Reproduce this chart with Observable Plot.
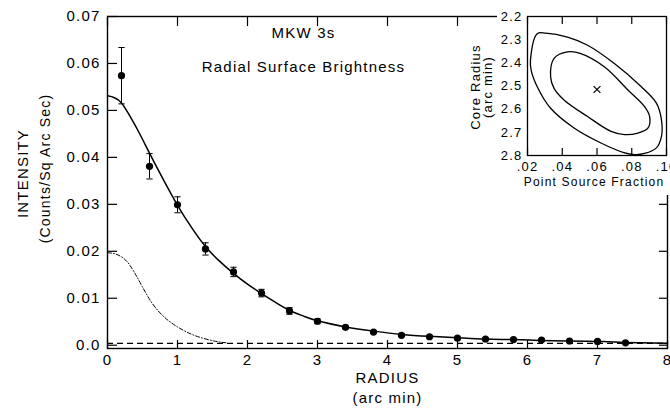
<!DOCTYPE html>
<html><head><meta charset="utf-8">
<script src="https://cdn.jsdelivr.net/npm/d3@7"></script>
<script src="https://cdn.jsdelivr.net/npm/@observablehq/plot@0.6"></script>
<style>
html,body{margin:0;padding:0;background:#fff;}
#wrap{position:relative;width:670px;height:411px;overflow:hidden;}
#main{position:absolute;left:0;top:0;}
#inset{position:absolute;left:497px;top:0;}
svg text{letter-spacing:1.2px;}
g[aria-label="title"] text{letter-spacing:1.8px;}
g[aria-label="axis-title"] text{letter-spacing:1px;}
</style></head><body><div id="wrap"><div id="main"></div><div id="inset"></div></div>
<script>
// ---- Main chart data ----
const radius    = [0.2, 0.6, 1.0, 1.4, 1.8, 2.2, 2.6, 3.0, 3.4, 3.8, 4.2, 4.6, 5.0, 5.4, 5.8, 6.2, 6.6, 7.0, 7.4];
const intensity = [0.0574, 0.0381, 0.0299, 0.0205, 0.0156, 0.0111, 0.0073, 0.0051, 0.0038, 0.0028, 0.0021, 0.0018, 0.0015, 0.0013, 0.0012, 0.0011, 0.0009, 0.0008, 0.0005];
const errorBar  = [0.0060, 0.0027, 0.0017, 0.0013, 0.0010, 0.0008, 0.0007, 0.0005, 0.0003, 0.0003, 0.0003, 0.0002, 0.0002, 0.0002, 0.0002, 0.0002, 0.0002, 0.0002, 0.0002];

// fitted total model (solid)
const fitRadius    = [0, 0.1, 0.2, 0.3, 0.45, 0.6, 0.8, 1.0, 1.2, 1.4, 1.6, 1.8, 2.0, 2.2, 2.4, 2.6, 2.8, 3.0, 3.4, 3.8, 4.2, 4.6, 5.0, 5.4, 5.8, 6.2, 6.6, 7.0, 7.4, 8.0];
const fitIntensity = [0.0531, 0.0527, 0.0516, 0.0493, 0.0453, 0.0409, 0.0352, 0.0298, 0.0251, 0.0210, 0.0179, 0.0153, 0.0130, 0.0110, 0.0091, 0.0074, 0.0062, 0.0052, 0.0039, 0.0030, 0.0023, 0.0019, 0.0016, 0.0013, 0.0012, 0.0010, 0.0009, 0.0008, 0.0006, 0.0004];

// point source component (dash-dot)
const psfRadius    = [0, 0.12, 0.26, 0.38, 0.5, 0.64, 0.81, 1.0, 1.24, 1.52, 1.71];
const psfIntensity = [0.0197, 0.0194, 0.0181, 0.0156, 0.0124, 0.0089, 0.0060, 0.0039, 0.0021, 0.0009, 0.0005];

// background level (dashed)
const background = [0.0004];

const xTicks = [0, 1, 2, 3, 4, 5, 6, 7, 8];
const xTickLabels = ["0", "1", "2", "3", "4", "5", "6", "7", "8"];
const yTicks = [0, 0.01, 0.02, 0.03, 0.04, 0.05, 0.06, 0.07];
const yTickLabels = ["0.0", "0.01", "0.02", "0.03", "0.04", "0.05", "0.06", "0.07"];

const titleLabels = ["MKW 3s", "Radial Surface Brightness"];
const titleX = [2.8, 2.8];
const titleY = [0.0664, 0.0591];

// ---- Inset data (confidence contours) ----
const outerFraction = [0.0217, 0.0221, 0.0256, 0.0333, 0.0468, 0.0623, 0.0749, 0.0816, 0.0874, 0.0942, 0.0971, 0.0971, 0.0942, 0.0855, 0.0700, 0.0546, 0.0430, 0.0304, 0.0256];
const outerCore     = [2.389, 2.431, 2.503, 2.596, 2.681, 2.746, 2.786, 2.796, 2.791, 2.767, 2.717, 2.646, 2.574, 2.503, 2.403, 2.324, 2.289, 2.272, 2.274];
const innerFraction = [0.0333, 0.0353, 0.0410, 0.0546, 0.0681, 0.0758, 0.0836, 0.0894, 0.0903, 0.0874, 0.0778, 0.0642, 0.0507, 0.0430, 0.0353];
const innerCore     = [2.460, 2.510, 2.560, 2.632, 2.696, 2.710, 2.703, 2.681, 2.632, 2.589, 2.517, 2.417, 2.360, 2.353, 2.381];
const bestFraction = [0.060];
const bestCore = [2.515];
const insetXTicks = [0.02, 0.04, 0.06, 0.08, 0.10];
const insetXTickLabels = [".02", ".04", ".06", ".08", ".10"];
const insetYTicks = [2.2, 2.3, 2.4, 2.5, 2.6, 2.7, 2.8];
const insetYTickLabels = ["2.2", "2.3", "2.4", "2.5", "2.6", "2.7", "2.8"];

// ---- build tables ----
const points = radius.map((r, i) => ({r, v: intensity[i], e: errorBar[i]}));
const caps = points.flatMap(d => [{r: d.r, v: d.v + d.e}, {r: d.r, v: d.v - d.e}]);
const fit = fitRadius.map((r, i) => ({r, v: fitIntensity[i]}));
const psf = psfRadius.map((r, i) => ({r, v: psfIntensity[i]}));
const titles = titleLabels.map((t, i) => ({t, x: titleX[i], y: titleY[i]}));
const outer = outerFraction.map((f, i) => ({f, c: outerCore[i]}));
const inner = innerFraction.map((f, i) => ({f, c: innerCore[i]}));
const best = bestFraction.map((f, i) => ({f, c: bestCore[i]}));

const FONT = "'Liberation Sans', Arial, sans-serif";
const capHalf = 0.045;

const main = Plot.plot({
  width: 670, height: 411,
  marginLeft: 107, marginRight: 3, marginTop: 16, marginBottom: 63,
  x: {domain: [0, 8]},
  y: {domain: [-0.0007, 0.07]},
  style: {fontFamily: FONT, fontSize: "15px", background: "white", color: "black"},
  marks: [
    Plot.ruleY(background, {stroke: "black", strokeWidth: 1.1, strokeDasharray: "6,4"}),
    Plot.line(psf, {x: "r", y: "v", curve: "natural", stroke: "black", strokeWidth: 1, strokeDasharray: "4,2,1,2"}),
    Plot.line(fit, {x: "r", y: "v", curve: "natural", stroke: "black", strokeWidth: 1.5}),
    Plot.ruleX(points, {x: "r", y1: d => d.v - d.e, y2: d => d.v + d.e, stroke: "black", strokeWidth: 1}),
    Plot.link(caps, {x1: d => d.r - capHalf, x2: d => d.r + capHalf, y1: "v", y2: "v", stroke: "black", strokeWidth: 1}),
    Plot.dot(points, {x: "r", y: "v", r: 3.6, fill: "black", stroke: "none"}),
    Plot.frame({stroke: "black", strokeWidth: 1.4}),
    Plot.axisX(xTicks, {anchor: "bottom", tickSize: -8, tickPadding: 14, tickFormat: d => xTickLabels[xTicks.indexOf(d)], fontSize: 15, label: null, strokeWidth: 1.2}),
    Plot.axisX(xTicks, {anchor: "top", tickSize: -9, tickFormat: () => "", label: null, strokeWidth: 1.2}),
    Plot.axisY(yTicks, {anchor: "left", tickSize: -10, tickPadding: 17, tickFormat: d => yTickLabels[yTicks.indexOf(d)], fontSize: 15, label: null, strokeWidth: 1.2}),
    Plot.axisY(yTicks, {anchor: "right", tickSize: -9, tickFormat: () => "", label: null, strokeWidth: 1.2}),
    Plot.text(titles, {x: "x", y: "y", text: "t", fontSize: 15, fill: "black", ariaLabel: "title"}),
    Plot.text(["RADIUS"], {text: d => d, frameAnchor: "bottom", textAnchor: "middle", dy: 34, fontSize: 15, fill: "black", ariaLabel: "axis-title"}),
    Plot.text(["(arc min)"], {text: d => d, frameAnchor: "bottom", textAnchor: "middle", dy: 54, fontSize: 15, fill: "black", ariaLabel: "axis-title"}),
    Plot.text(["INTENSITY"], {text: d => d, frameAnchor: "left", textAnchor: "middle", rotate: -90, dx: -84, dy: -9, fontSize: 15, fill: "black", ariaLabel: "axis-title"}),
    Plot.text(["(Counts/Sq Arc Sec)"], {text: d => d, frameAnchor: "left", textAnchor: "middle", rotate: -90, dx: -62, dy: -14, fontSize: 14, fill: "black", ariaLabel: "axis-title"})
  ]
});
document.getElementById("main").append(main);

const inset = Plot.plot({
  width: 173, height: 195,
  marginLeft: 30, marginRight: 4, marginTop: 16, marginBottom: 40,
  x: {domain: [0.02, 0.10]},
  y: {domain: [2.2, 2.8], reverse: true},
  style: {fontFamily: FONT, fontSize: "13px", background: "white", color: "black", overflow: "visible"},
  marks: [
    Plot.frame({stroke: "black", strokeWidth: 1.3}),
    Plot.axisX(insetXTicks, {anchor: "bottom", tickSize: -7, tickPadding: 13, tickFormat: d => insetXTickLabels[insetXTicks.indexOf(d)], fontSize: 13, label: null, strokeWidth: 1.2}),
    Plot.axisX(insetXTicks, {anchor: "top", tickSize: -7, tickFormat: () => "", label: null, strokeWidth: 1.2}),
    Plot.axisY(insetYTicks, {anchor: "left", tickSize: 0, tickPadding: 5, tickFormat: d => insetYTickLabels[insetYTicks.indexOf(d)], fontSize: 13, label: null}),
    Plot.line(outer, {x: "f", y: "c", curve: "catmull-rom-closed", stroke: "black", strokeWidth: 1.3}),
    Plot.line(inner, {x: "f", y: "c", curve: "catmull-rom-closed", stroke: "black", strokeWidth: 1.3}),
    Plot.dot(best, {x: "f", y: "c", symbol: "times", r: 3.2, stroke: "black", strokeWidth: 1.2}),
    Plot.text(["Point Source Fraction"], {text: d => d, frameAnchor: "bottom", textAnchor: "middle", dy: 30, dx: -3, fontSize: 12, fill: "black", ariaLabel: "inset-title"}),
    Plot.text(["Core Radius"], {text: d => d, frameAnchor: "left", textAnchor: "middle", rotate: -90, dx: -52, dy: 1, fontSize: 13, fill: "black", ariaLabel: "inset-title"}),
    Plot.text(["(arc min)"], {text: d => d, frameAnchor: "left", textAnchor: "middle", rotate: -90, dx: -40, dy: 1, fontSize: 13, fill: "black", ariaLabel: "inset-title"})
  ]
});
document.getElementById("inset").append(inset);
</script></body></html>
